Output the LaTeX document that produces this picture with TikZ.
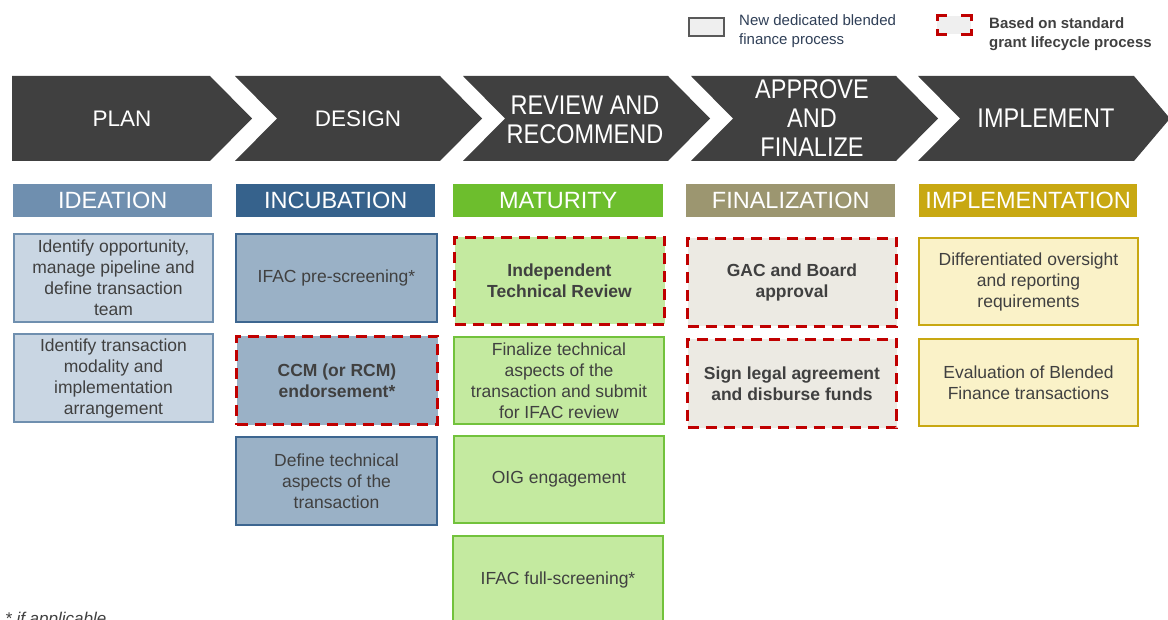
\documentclass[tikz,border=0pt]{standalone}
\usepackage{fontspec}
\setmainfont{Liberation Sans}
\newfontfamily\chevfont[FakeStretch=0.87]{Liberation Sans}
\definecolor{chev}{HTML}{404040}
\definecolor{txt}{HTML}{404040}
\definecolor{legtxt}{HTML}{2F3F57}
\definecolor{idhead}{HTML}{6F8FAF}
\definecolor{idfill}{HTML}{C9D6E3}
\definecolor{idline}{HTML}{6F8FAF}
\definecolor{inhead}{HTML}{36628C}
\definecolor{infill}{HTML}{9AB1C6}
\definecolor{inline}{HTML}{3D6690}
\definecolor{mahead}{HTML}{6DBE2D}
\definecolor{mafill}{HTML}{C4EAA0}
\definecolor{maline}{HTML}{72C23C}
\definecolor{fihead}{HTML}{9C9670}
\definecolor{fifill}{HTML}{ECEAE3}
\definecolor{imhead}{HTML}{C8A812}
\definecolor{imfill}{HTML}{FAF2C8}
\definecolor{imline}{HTML}{C8A812}
\definecolor{dashred}{HTML}{C00000}
\definecolor{leggrey}{HTML}{EFEFEF}
\definecolor{legline}{HTML}{595959}
\tikzset{
  chevshape/.style={fill=chev},
  chevtext/.style={text=white, align=center, inner sep=0pt, font=\chevfont\fontsize{27}{29}\selectfont},
  chevtextA/.style={text=white, align=center, inner sep=0pt, font=\fontsize{22.5}{27}\selectfont},
  hdr/.style={anchor=north west, inner sep=0pt, text=white, minimum height=33pt, font=\fontsize{23.5}{27}\selectfont},
  box/.style={anchor=north west, inner sep=0pt, align=center, text=txt, line width=2pt, font=\fontsize{17.5}{21}\selectfont},
  idbox/.style={box, fill=idfill, draw=idline, minimum width=199pt, minimum height=88pt},
  inbox/.style={box, fill=infill, draw=inline, minimum width=201pt, minimum height=88pt},
  mabox/.style={box, fill=mafill, draw=maline, minimum width=210pt, minimum height=87pt},
  fibox/.style={box, fill=fifill, draw=fifill, minimum width=209pt, minimum height=88pt},
  imbox/.style={box, fill=imfill, draw=imline, minimum width=219pt, minimum height=87pt},
  redash/.style={draw=dashred, line width=3pt, dash pattern=on 11pt off 7pt, font=\bfseries\fontsize{17.5}{21}\selectfont},
}
\begin{document}
\begin{tikzpicture}[x=1pt,y=-1pt]
\useasboundingbox (0,0) rectangle (1168,620);
\clip (0,0) rectangle (1168,620);
\fill[white] (0,0) rectangle (1168,620);

% legend
\node[draw=legline, fill=leggrey, line width=2pt, anchor=north west, minimum width=35pt, minimum height=18pt, inner sep=0pt] (legnew) at (688,17) {};
\node[anchor=base west, align=left, inner sep=0pt, text=legtxt, font=\fontsize{15}{19}\selectfont] (legnewtxt) at (739,45) {New dedicated blended\\finance process};
\node[fill=leggrey, anchor=north west, minimum width=34pt, minimum height=18pt, inner sep=0pt] (legstd) at (937,16) {};
\draw[dashred, line width=3pt] (legstd.north west) ++(0,5) -- (legstd.north west) -- ++(10,0);
\draw[dashred, line width=3pt] (legstd.north east) ++(0,5) -- (legstd.north east) -- ++(-10,0);
\draw[dashred, line width=3pt] (legstd.south west) ++(0,-5) -- (legstd.south west) -- ++(10,0);
\draw[dashred, line width=3pt] (legstd.south east) ++(0,-5) -- (legstd.south east) -- ++(-10,0);
\node[anchor=base west, align=left, inner sep=0pt, text=txt, font=\bfseries\fontsize{15}{19}\selectfont] (legstdtxt) at (989,48) {Based on standard\\grant lifecycle process};

% chevrons
\fill[chevshape] (12,76) -- (210,76) -- (252,118.5) -- (210,161) -- (12,161) -- cycle;
\fill[chevshape] (235,76) -- (440,76) -- (482,118.5) -- (440,161) -- (235,161) -- (277,118.5) -- cycle;
\fill[chevshape] (463,76) -- (668,76) -- (710,118.5) -- (668,161) -- (463,161) -- (505,118.5) -- cycle;
\fill[chevshape] (691,76) -- (896,76) -- (938,118.5) -- (896,161) -- (691,161) -- (733,118.5) -- cycle;
\fill[chevshape] (918,76) -- (1134,76) -- (1170,118.5) -- (1134,161) -- (918,161) -- (960,118.5) -- cycle;
\node[chevtextA] (cplan) at (122,118.5) {PLAN};
\node[chevtextA] (cdesign) at (358,118.5) {DESIGN};
\node[chevtext] (creview) at (585,119.5) {REVIEW AND\\RECOMMEND};
\node[chevtext] (capprove) at (812,118.5) {APPROVE\\AND\\FINALIZE};
\node[chevtext] (cimpl) at (1046,118.5) {IMPLEMENT};

% headers
\node[hdr, fill=idhead, minimum width=199pt] (hid) at (13,184) {IDEATION};
\node[hdr, fill=inhead, minimum width=199pt] (hin) at (236,184) {INCUBATION};
\node[hdr, fill=mahead, minimum width=210pt] (hma) at (453,184) {MATURITY};
\node[hdr, fill=fihead, minimum width=209pt] (hfi) at (686,184) {FINALIZATION};
\node[hdr, fill=imhead, minimum width=218pt] (him) at (919,184) {IMPLEMENTATION};

% ideation
\node[idbox] (id1) at (13,233) {Identify opportunity,\\manage pipeline and\\define transaction\\team};
\node[idbox] (id2) at (13,333) {Identify transaction\\modality and\\implementation\\arrangement};

% incubation
\node[inbox] (in1) at (235,233) {IFAC pre-screening*};
\node[inbox, redash] (in2) at (235,335) {CCM (or RCM)\\endorsement*};
\node[inbox] (in3) at (235,436) {Define technical\\aspects of the\\transaction};

% maturity
\node[mabox, redash] (ma1) at (453,236) {Independent\\Technical Review};
\node[mabox] (ma2) at (453,336) {Finalize technical\\aspects of the\\transaction and submit\\for IFAC review};
\node[mabox] (ma3) at (453,435) {OIG engagement};
\node[mabox, minimum height=88pt] (ma4) at (452,535) {IFAC full-screening*};

% finalization
\node[fibox, redash] (fi1) at (686,237) {GAC and Board\\approval};
\node[fibox, redash] (fi2) at (686,338) {Sign legal agreement\\and disburse funds};

% implementation
\node[imbox] (im1) at (918,237) {Differentiated oversight\\and reporting\\requirements};
\node[imbox] (im2) at (918,338) {Evaluation of Blended\\Finance transactions};

% footnote
\node[anchor=base west, inner sep=0pt, text=txt, font=\itshape\fontsize{17}{20}\selectfont] (foot) at (5,624) {* if applicable};
\end{tikzpicture}
\end{document}
